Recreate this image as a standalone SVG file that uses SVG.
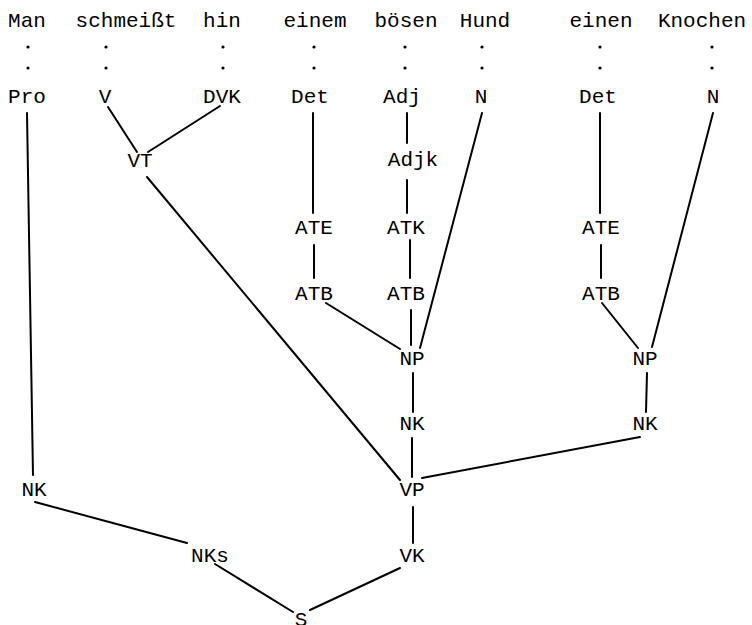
<svg xmlns="http://www.w3.org/2000/svg" width="752" height="625" viewBox="0 0 752 625">
<style>
text{font-family:"Liberation Mono","Courier New",monospace;font-size:21px;fill:#000;text-anchor:middle}
.e line{stroke:#000;stroke-width:2;stroke-linecap:round}
.d circle{fill:#000}
</style>
<rect width="752" height="625" fill="#fff"/>
<g id="words">
<text x="27" y="27">Man</text>
<text x="126" y="27">schmeißt</text>
<text x="222" y="27">hin</text>
<text x="315" y="27">einem</text>
<text x="406" y="27">bösen</text>
<text x="485" y="27">Hund</text>
<text x="601" y="27">einen</text>
<text x="702" y="27">Knochen</text>
</g>
<g class="d" id="dots">
<circle cx="28" cy="47" r="1.6"/><circle cx="28" cy="68" r="1.6"/>
<circle cx="106" cy="47" r="1.6"/><circle cx="106" cy="68" r="1.6"/>
<circle cx="223" cy="47" r="1.6"/><circle cx="223" cy="68" r="1.6"/>
<circle cx="314" cy="47" r="1.6"/><circle cx="314" cy="68" r="1.6"/>
<circle cx="405" cy="47" r="1.6"/><circle cx="405" cy="68" r="1.6"/>
<circle cx="482" cy="47" r="1.6"/><circle cx="482" cy="68" r="1.6"/>
<circle cx="600" cy="47" r="1.6"/><circle cx="600" cy="68" r="1.6"/>
<circle cx="712" cy="47" r="1.6"/><circle cx="712" cy="68" r="1.6"/>
</g>
<g class="e" id="connectors">
<line x1="27" y1="113" x2="33" y2="475"/>
<line x1="108" y1="107" x2="137" y2="152"/>
<line x1="220" y1="106" x2="148" y2="152"/>
<line x1="147" y1="177" x2="400" y2="480"/>
<line x1="313" y1="113" x2="313" y2="213"/>
<line x1="314" y1="245" x2="314" y2="278"/>
<line x1="326" y1="303" x2="400" y2="349"/>
<line x1="407" y1="113" x2="407" y2="143"/>
<line x1="407" y1="180" x2="407" y2="213"/>
<line x1="410" y1="240" x2="410" y2="278"/>
<line x1="411" y1="310" x2="411" y2="345"/>
<line x1="482" y1="113" x2="420" y2="348"/>
<line x1="413" y1="373" x2="413" y2="412"/>
<line x1="412" y1="438" x2="412" y2="477"/>
<line x1="413" y1="507" x2="413" y2="543"/>
<line x1="400" y1="568" x2="310" y2="610"/>
<line x1="215" y1="564" x2="293" y2="612"/>
<line x1="35" y1="502" x2="187" y2="543"/>
<line x1="640" y1="437" x2="422" y2="478"/>
<line x1="600" y1="113" x2="600" y2="213"/>
<line x1="601" y1="245" x2="601" y2="278"/>
<line x1="602" y1="303" x2="638" y2="348"/>
<line x1="713" y1="113" x2="652" y2="347"/>
<line x1="647" y1="373" x2="646" y2="412"/>
</g>
<g id="n-pro"><text x="27" y="103">Pro</text></g>
<g id="n-v"><text x="105" y="103">V</text></g>
<g id="n-dvk"><text x="222" y="103">DVK</text></g>
<g id="n-det1"><text x="310" y="103">Det</text></g>
<g id="n-adj"><text x="402" y="103">Adj</text></g>
<g id="n-n1"><text x="481" y="103">N</text></g>
<g id="n-det2"><text x="598" y="103">Det</text></g>
<g id="n-n2"><text x="713" y="103">N</text></g>
<g id="n-vt"><text x="140" y="167">VT</text></g>
<g id="n-adjk"><text x="413" y="166">Adjk</text></g>
<g id="n-ate1"><text x="314" y="234">ATE</text></g>
<g id="n-atk"><text x="406" y="234">ATK</text></g>
<g id="n-ate2"><text x="601" y="234">ATE</text></g>
<g id="n-atb1"><text x="314" y="300">ATB</text></g>
<g id="n-atb2"><text x="406" y="300">ATB</text></g>
<g id="n-atb3"><text x="601" y="300">ATB</text></g>
<g id="n-np1"><text x="412" y="365">NP</text></g>
<g id="n-np2"><text x="645" y="365">NP</text></g>
<g id="n-nk1"><text x="412" y="430">NK</text></g>
<g id="n-nk2"><text x="645" y="430">NK</text></g>
<g id="n-nk0"><text x="34" y="496">NK</text></g>
<g id="n-vp"><text x="412" y="496">VP</text></g>
<g id="n-nks"><text x="210" y="562">NKs</text></g>
<g id="n-vk"><text x="412" y="562">VK</text></g>
<g id="n-s"><text x="301" y="626">S</text></g>
</svg>
